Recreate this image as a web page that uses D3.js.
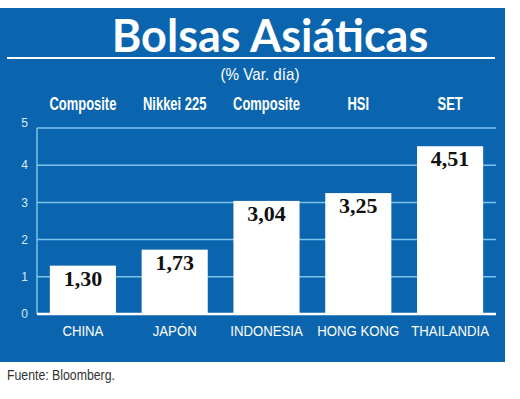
<!DOCTYPE html>
<html>
<head>
<meta charset="utf-8">
<script src="https://cdn.jsdelivr.net/npm/d3@7"></script>
<style>
  body { margin: 0; background: #fff; }
  svg { display: block; }
</style>
</head>
<body>
<svg id="chart"></svg>
<script>
// data
const countries = ['CHINA', 'JAPÓN', 'INDONESIA', 'HONG KONG', 'THAILANDIA'];
const indices = ['Composite', 'Nikkei 225', 'Composite', 'HSI', 'SET'];
const values = [1.30, 1.73, 3.04, 3.25, 4.51];
const yTicks = [0, 1, 2, 3, 4, 5];

const width = 520;
const height = 399;
const blue = '#0b65ae';
const gridColor = '#7cc2ea';

const svg = d3.select('#chart')
  .attr('width', width)
  .attr('height', height);

// narrow the fonts a bit, the original uses a condensed face
const squeeze = (cx, cy, sx) => `translate(${cx},${cy}) scale(${sx},1)`;

// background panel
svg.append('rect')
  .attr('x', 0).attr('y', 8)
  .attr('width', 505).attr('height', 354)
  .attr('fill', blue);

svg.append('text')
  .attr('x', 270).attr('y', 52)
  .attr('text-anchor', 'middle')
  .attr('fill', '#fff')
  .style('font-family', 'Lato, sans-serif')
  .style('font-weight', 'bold')
  .style('font-size', '45px')
  .text('Bolsas Asiáticas');

svg.append('line')
  .attr('x1', 7).attr('x2', 495)
  .attr('y1', 58).attr('y2', 58)
  .attr('stroke', '#fff')
  .attr('stroke-width', 2);

svg.append('text')
  .attr('transform', squeeze(260, 80, 0.95))
  .attr('text-anchor', 'middle')
  .attr('fill', '#fff')
  .style('font-family', '"Liberation Sans", sans-serif')
  .style('font-size', '16px')
  .text('(% Var. día)');

const x = d3.scaleBand()
  .domain(countries)
  .range([37, 496])
  .paddingInner(0.28)
  .paddingOuter(0.14);

const y = d3.scaleLinear()
  .domain([0, 5])
  .range([314, 128]);

const cx = i => x(countries[i]) + x.bandwidth() / 2;

// grid lines
svg.append('g')
  .selectAll('line')
  .data(yTicks.filter(d => d > 0))
  .join('line')
  .attr('x1', 37).attr('x2', 496)
  .attr('y1', d => y(d)).attr('y2', d => y(d))
  .attr('stroke', gridColor)
  .attr('stroke-width', 1.5);

svg.append('line')
  .attr('x1', 37).attr('x2', 37)
  .attr('y1', y(5)).attr('y2', y(0))
  .attr('stroke', gridColor)
  .attr('stroke-width', 1.5);

// y axis labels
svg.append('g')
  .selectAll('text')
  .data(yTicks)
  .join('text')
  .attr('x', 28)
  .attr('y', d => y(d) - (d === 5 ? 5 : 0))
  .attr('dy', '0.35em')
  .attr('text-anchor', 'end')
  .attr('fill', '#d6eaf8')
  .style('font-family', '"Liberation Sans", sans-serif')
  .style('font-size', '12px')
  .text(d => d);

// bars
svg.append('g')
  .selectAll('rect')
  .data(values)
  .join('rect')
  .attr('x', (d, i) => x(countries[i]))
  .attr('y', d => y(d))
  .attr('width', x.bandwidth())
  .attr('height', d => y(0) - y(d))
  .attr('fill', '#fff');

svg.append('line')
  .attr('x1', 37).attr('x2', 496)
  .attr('y1', y(0)).attr('y2', y(0))
  .attr('stroke', '#fff')
  .attr('stroke-width', 2.5);

// value labels
svg.append('g')
  .selectAll('text')
  .data(values)
  .join('text')
  .attr('x', (d, i) => cx(i))
  .attr('y', d => y(d) + 20)
  .attr('text-anchor', 'middle')
  .attr('fill', '#111')
  .style('font-family', '"Liberation Serif", serif')
  .style('font-weight', 'bold')
  .style('font-size', '22px')
  .text(d => d.toFixed(2).replace('.', ','));

// index names above
svg.append('g')
  .selectAll('text')
  .data(indices)
  .join('text')
  .attr('transform', (d, i) => squeeze(cx(i), 110, 0.72))
  .attr('text-anchor', 'middle')
  .attr('fill', '#fff')
  .style('font-family', '"Liberation Sans", sans-serif')
  .style('font-weight', 'bold')
  .style('font-size', '18px')
  .text(d => d);

// country names below
svg.append('g')
  .selectAll('text')
  .data(countries)
  .join('text')
  .attr('transform', (d, i) => squeeze(cx(i), 336, 0.88))
  .attr('text-anchor', 'middle')
  .attr('fill', '#fff')
  .style('font-family', '"Liberation Sans", sans-serif')
  .style('font-size', '15px')
  .text(d => d);

svg.append('text')
  .attr('transform', squeeze(7, 380, 0.82))
  .attr('fill', '#333')
  .style('font-family', '"Liberation Sans", sans-serif')
  .style('font-size', '15px')
  .text('Fuente: Bloomberg.');
</script>
</body>
</html>
